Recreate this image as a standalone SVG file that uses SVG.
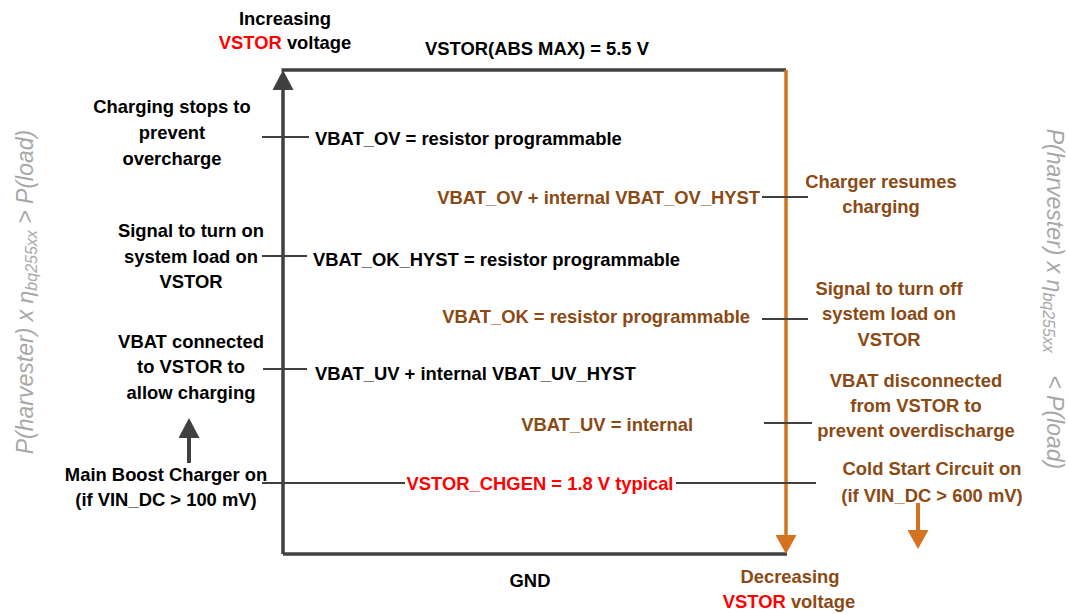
<svg xmlns="http://www.w3.org/2000/svg" width="1068" height="614" viewBox="0 0 1068 614">
<style>
text{font-family:"Liberation Sans",Arial,sans-serif;font-weight:bold;font-size:18.4px;fill:#000}
.br{fill:#8B4A14}
.rd{fill:#FF0000}
.c{text-anchor:middle}
.e{text-anchor:end}
.side{font-weight:normal;font-style:italic;font-size:23px;fill:#A8A8A8}
.sub{font-size:16px}
.main{stroke:#404040;stroke-width:3.5;fill:none}
.org{stroke:#D4731F;stroke-width:3.5;fill:none}
.tick{stroke:#404040;stroke-width:1.8;fill:none}
</style>
<defs>
<marker id="aDark" markerUnits="userSpaceOnUse" viewBox="0 0 20 21" refX="0" refY="10.5" markerWidth="20" markerHeight="21" orient="auto"><path d="M0,0 L20,10.5 L0,21 z" fill="#404040"/></marker>
<marker id="aOrg" markerUnits="userSpaceOnUse" viewBox="0 0 19 21" refX="0" refY="10.5" markerWidth="19" markerHeight="21" orient="auto"><path d="M0,0 L19,10.5 L0,21 z" fill="#D4731F"/></marker>
</defs>
<g id="connectors">
<path class="main" d="M283,554 L283,90" marker-end="url(#aDark)"/>
<path class="main" d="M281.5,70 L786,70"/>
<path class="main" d="M283,554 L787,554"/>
<path class="org" d="M786,70 L786,535" marker-end="url(#aOrg)"/>
<path class="tick" d="M262,137 L309,137"/>
<path class="tick" d="M262,256 L307,256"/>
<path class="tick" d="M263,369 L307,369"/>
<path class="tick" d="M262,483 L405,483"/>
<path class="tick" d="M676,483 L816,483"/>
<path class="tick" d="M762,197 L808,197"/>
<path class="tick" d="M762,319 L808,319"/>
<path class="tick" d="M764,423 L812,423"/>
<path class="main" style="stroke-width:4" d="M189,463 L189,438" marker-end="url(#aDark)"/>
<path class="org" style="stroke-width:4" d="M918,503 L918,530" marker-end="url(#aOrg)"/>
</g>
<g id="top-label"><text class="c" x="285" y="25">Increasing</text><text class="c" x="285" y="49"><tspan class="rd">VSTOR</tspan> voltage</text></g>
<g id="abs-max"><text class="c" x="537" y="55">VSTOR(ABS MAX) = 5.5 V</text></g>
<g id="charging-stops"><text class="c" x="172" y="113">Charging stops to</text><text class="c" x="172" y="139">prevent</text><text class="c" x="172" y="165">overcharge</text></g>
<g id="signal-on"><text class="c" x="191" y="237">Signal to turn on</text><text class="c" x="191" y="263">system load on</text><text class="c" x="191" y="288">VSTOR</text></g>
<g id="vbat-connected"><text class="c" x="191" y="348">VBAT connected</text><text class="c" x="191" y="373">to VSTOR to</text><text class="c" x="191" y="399">allow charging</text></g>
<g id="main-boost"><text class="c" x="166" y="481">Main Boost Charger on</text><text class="c" x="166" y="506">(if VIN_DC &gt; 100 mV)</text></g>
<g id="vbat-ov"><text x="315" y="145">VBAT_OV = resistor programmable</text></g>
<g id="vbat-ov-hyst"><text class="br e" x="760" y="204">VBAT_OV + internal VBAT_OV_HYST</text></g>
<g id="vbat-ok-hyst"><text x="313" y="266">VBAT_OK_HYST = resistor programmable</text></g>
<g id="vbat-ok"><text class="br e" x="750" y="323">VBAT_OK = resistor programmable</text></g>
<g id="vbat-uv-hyst"><text x="315" y="380">VBAT_UV + internal VBAT_UV_HYST</text></g>
<g id="vbat-uv"><text class="br e" x="693" y="431">VBAT_UV = internal</text></g>
<g id="chgen"><text class="rd c" x="540" y="490">VSTOR_CHGEN = 1.8 V typical</text></g>
<g id="gnd"><text class="c" x="530" y="587">GND</text></g>
<g id="charger-resumes"><text class="br c" x="881" y="188">Charger resumes</text><text class="br c" x="881" y="213">charging</text></g>
<g id="signal-off"><text class="br c" x="889" y="295">Signal to turn off</text><text class="br c" x="889" y="320">system load on</text><text class="br c" x="889" y="346">VSTOR</text></g>
<g id="vbat-disconnected"><text class="br c" x="916" y="387">VBAT disconnected</text><text class="br c" x="916" y="412">from VSTOR to</text><text class="br c" x="916" y="437">prevent overdischarge</text></g>
<g id="cold-start"><text class="br c" x="932" y="475">Cold Start Circuit on</text><text class="br c" x="932" y="502">(if VIN_DC &gt; 600 mV)</text></g>
<g id="bottom-label"><text class="br c" x="790" y="583">Decreasing</text><text class="br c" x="789" y="608"><tspan class="rd">VSTOR</tspan> voltage</text></g>
<g id="left-side"><text class="side c" transform="translate(33,292) rotate(-90)">P(harvester) x η<tspan class="sub" dy="4">bq255xx</tspan><tspan dy="-4"> &gt; P(load)</tspan></text></g>
<g id="right-side"><text class="side c" transform="translate(1047,299) rotate(90)">P(harvester) x η<tspan class="sub" dy="4">bq255xx</tspan><tspan dy="-4" dx="16"> &lt; P(load)</tspan></text></g>
</svg>
